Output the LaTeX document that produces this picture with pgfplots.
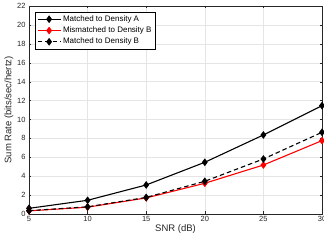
\documentclass[border=0pt]{standalone}
\usepackage{fontspec}
\setmainfont{Liberation Sans}
\usepackage{pgfplots}
\pgfplotsset{compat=1.18}
\definecolor{axgray}{rgb}{0.15,0.15,0.15}
\begin{document}
\begin{tikzpicture}
\begin{axis}[
  name=ax,
  scale only axis, width=293pt, height=208pt,
  xmin=5, xmax=30, ymin=0, ymax=22,
  xtick={5,10,15,20,25,30}, ytick={0,2,...,22},
  grid=major, grid style={gray!20, line width=0.4pt},
  axis line style={axgray, line width=0.4pt},
  tick style={axgray}, tick align=inside, major tick length=2.5pt,
  ticklabel style={font=\fontsize{7.5}{8}\selectfont, text=axgray},
  xticklabel style={yshift=1pt},
  /pgf/number format/assume math mode=true,
  xlabel={SNR (dB)}, ylabel={Sum Rate (bits/sec/hertz)},
  label style={font=\fontsize{9.5}{10}\selectfont, text=axgray},
  xlabel style={yshift=4pt}, ylabel style={yshift=-3pt},
  legend style={at={(0.022,0.972)}, anchor=north west, font=\fontsize{8}{9}\selectfont,
    draw=black, line width=0.5pt, inner sep=1.5pt, row sep=0pt, cells={anchor=west}},
  legend cell align=left,
  legend image code/.code={\draw[mark repeat=2,mark phase=2] plot coordinates {(0cm,0cm) (0.4cm,0cm) (0.8cm,0cm)};},
  every axis plot/.append style={line width=1.1pt, mark=diamond*, mark size=3pt},
]
\addplot[black, mark options={solid,fill=black}] coordinates {(5,0.6) (10,1.45) (15,3.07) (20,5.47) (25,8.36) (30,11.46)};
\addlegendentry{Matched to Density A}
\addplot[red, mark options={solid,fill=red}] coordinates {(5,0.33) (10,0.72) (15,1.7) (20,3.25) (25,5.18) (30,7.76)};
\addlegendentry{Mismatched to Density B}
\addplot[black, dash pattern=on 4.5pt off 3pt, mark options={solid,fill=black}] coordinates {(5,0.35) (10,0.76) (15,1.75) (20,3.46) (25,5.82) (30,8.64)};
\addlegendentry{Matched to Density B}
\end{axis}
\pgfresetboundingbox
\path ([shift={(-29pt,-29pt)}]ax.south west) rectangle ([shift={(2pt,6pt)}]ax.north east);
\end{tikzpicture}
\end{document}
